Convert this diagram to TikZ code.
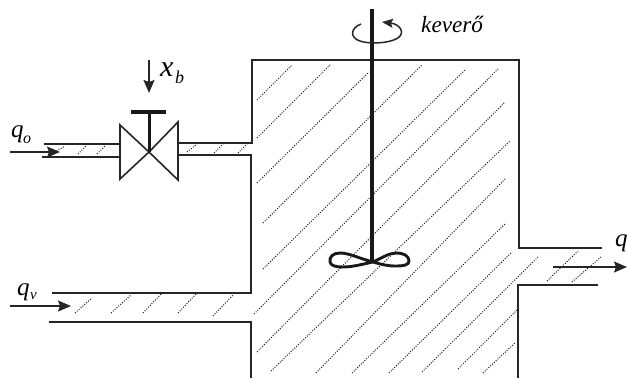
\documentclass[tikz,border=0pt]{standalone}
\usepackage{fontspec}
\setmainfont{Liberation Serif}
\usetikzlibrary{arrows.meta}
\begin{document}
\begin{tikzpicture}[
  x=1pt, y=-1pt,
  wall/.style={draw=black!85, line width=2.1pt, line join=miter},
  hatch/.style={draw=black!90, line width=1pt, dash pattern=on 1pt off 1.5pt},
  valve/.style={draw=black!85, line width=1.6pt, line join=miter},
  flow/.style={draw=black!85, line width=1.5pt, -{Stealth[length=13pt,width=11pt,inset=2pt]}},
  lab/.style={font=\itshape, inner sep=0pt},
  ]
  \useasboundingbox (0,0) rectangle (627,378);
  \fill[white] (0,0) rectangle (627,378);

  % tank hatching
  \foreach \xa/\ya/\xb/\yb in {257/100/292/65, 257/138/331/64, 257/183/369/72,
      263/223/422/65, 263/269/466/69, 254/314/498/69, 257/352/505/102,
      271/371/510/141, 316/373/506/178, 352/373/506/223, 389/373/512/252,
      422/372/539/256, 458/369/517/310, 483/373/515/343,
      547/281/578/251, 572/282/601/257}
    \draw[hatch] (\xa,\ya) -- (\xb,\yb);
  % pipe hatching
  \foreach \xa/\ya/\xb/\yb in {75/313/92/298, 111/313/131/295, 143/313/162/293,
      178/313/197/293, 213/316/233/295,
      50/155/65/146, 78/154/86/146, 97/154/105/146,
      187/152/197/144, 214/153/223/144, 238/153/247/144}
    \draw[hatch] (\xa,\ya) -- (\xb,\yb);

  % tank walls
  \draw[wall] (178,143) -- (252,143) -- (252,60) -- (519,60) -- (519,248) -- (602,248);
  \draw[wall] (178,155) -- (251,155) -- (251,293) -- (52,293);
  \draw[wall] (49,322) -- (251,322) -- (251,378);
  \draw[wall] (598,285) -- (518,285) -- (518,378);
  \draw[wall] (44,144) -- (122,144);
  \draw[wall] (42,157) -- (120,157);

  % valve
  \coordinate (valvec) at (149,152);
  \fill[white] (120,125) -- (valvec) -- (120,179) -- cycle;
  \fill[white] (178,122) -- (valvec) -- (178,180) -- cycle;
  \draw[valve] (valvec) -- (120,125) -- (120,179) -- cycle;
  \draw[valve] (valvec) -- (178,122) -- (178,180) -- cycle;
  \draw[draw=black!90, line width=3pt] (valvec) -- (149,112);
  \draw[draw=black!90, line width=3.8pt] (131,112) -- (166,112);

  % mixer
  \draw[draw=black!90, line width=3.8pt] (372,9) -- (372,263);
  \draw[draw=black!90, line width=2.9pt, line join=round]
    (373,262) .. controls (358,258) and (349,253) .. (340,253)
    .. controls (333,253) and (329,257) .. (330,262)
    .. controls (331,266) and (336,267) .. (343,267)
    .. controls (353,267) and (363,264) .. (373,262)
    .. controls (382,258) and (389,253) .. (396,253)
    .. controls (404,253) and (409,256) .. (409,261)
    .. controls (409,265) and (404,266) .. (395,266)
    .. controls (387,266) and (380,264) .. (373,262) -- cycle;
  \draw[draw=black!85, line width=1.5pt, -{Stealth[length=11pt,width=9pt,inset=2pt]}]
    (361,24) .. controls (350,28) and (350,38) .. (360,41)
    .. controls (368,44) and (388,44) .. (398,38)
    .. controls (406,32) and (399,24) .. (382,22);

  % flows
  \draw[flow] (149,60) -- (149,93);
  \draw[flow] (10,152) -- (60,152);
  \draw[flow] (10,306) -- (71,306);
  \draw[flow] (553,267) -- (627,267);

  % labels
  \node[lab, font=\itshape\fontsize{23.2}{23}\selectfont, anchor=base west] (mixerlab) at (421,32) {keverő};
  \node[lab, font=\itshape\fontsize{30}{30}\selectfont, anchor=base west] (xlab) at (160,76) {x};
  \node[lab, font=\itshape\fontsize{18}{18}\selectfont, anchor=base west] (xblab) at (175,83) {b};
  \node[lab, font=\itshape\fontsize{25}{25}\selectfont, anchor=base west] (qolab) at (11,137) {q};
  \node[lab, font=\itshape\fontsize{16}{16}\selectfont, anchor=base west] (qoidx) at (23,143) {o};
  \node[lab, font=\itshape\fontsize{25}{25}\selectfont, anchor=base west] (qvlab) at (17,295) {q};
  \node[lab, font=\itshape\fontsize{15}{15}\selectfont, anchor=base west] (qvidx) at (30,299) {v};
  \node[lab, font=\itshape\fontsize{25}{25}\selectfont, anchor=base west] (qlab) at (615,246) {q};
\end{tikzpicture}
\end{document}
